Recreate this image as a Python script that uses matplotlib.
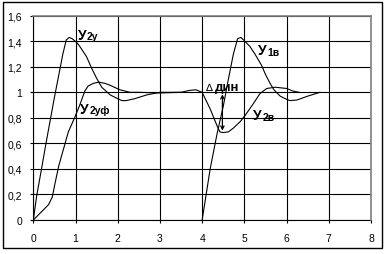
import numpy as np
import matplotlib
matplotlib.use('Agg')
import matplotlib.pyplot as plt
from matplotlib.patches import Rectangle

plt.rcParams['font.family'] = ['Liberation Sans', 'DejaVu Sans']

# y2 reaction to set point (0..4), continued by y2 reaction to disturbance (4..6.3)
t_y2y = [0, 0.08, 0.2, 0.3, 0.4, 0.5, 0.6, 0.7, 0.78, 0.85, 0.92, 1.03, 1.1, 1.2, 1.26,
         1.38, 1.5, 1.62, 1.82, 2.0, 2.1, 2.2, 2.4, 2.69, 3.0, 3.5, 3.7, 3.85, 4.0]
y2y = [0, 0.19, 0.41, 0.60, 0.78, 0.96, 1.13, 1.30, 1.41, 1.43, 1.42, 1.39, 1.36, 1.31, 1.28,
       1.19, 1.11, 1.04, 0.98, 0.95, 0.935, 0.935, 0.95, 0.98, 1.0, 1.0, 1.015, 1.02, 1.0]

t_y2yf = [0, 0.36, 0.45, 0.51, 0.6, 0.71, 0.83, 0.99, 1.1, 1.22, 1.3, 1.42, 1.55, 1.7,
          1.82, 2.05, 2.29, 2.5, 3.0, 3.5]
y2yf = [0, 0.12, 0.18, 0.28, 0.42, 0.55, 0.69, 0.81, 0.9, 1.01, 1.05, 1.07, 1.08, 1.07,
        1.055, 1.02, 1.0, 1.0, 0.995, 1.0]

t_y2v = [4.0, 4.19, 4.35, 4.42, 4.5, 4.62, 4.74, 4.9, 5.02, 5.21, 5.37, 5.53, 5.73, 6.0,
         6.15, 6.3]
y2v = [1.0, 0.87, 0.74, 0.69, 0.685, 0.69, 0.72, 0.77, 0.82, 0.91, 0.99, 1.03, 1.04, 1.03,
       1.01, 1.0]

t_y1v = [4.0, 4.19, 4.35, 4.5, 4.62, 4.74, 4.84, 4.92, 4.98, 5.13, 5.25, 5.41, 5.5, 5.61,
         5.7, 5.85, 6.0, 6.08, 6.25, 6.5, 6.79]
y1v = [0, 0.40, 0.67, 0.89, 1.10, 1.30, 1.42, 1.43, 1.41, 1.36, 1.30, 1.21, 1.14, 1.07,
       1.02, 0.97, 0.945, 0.935, 0.94, 0.97, 1.0]

xticks = [0, 1, 2, 3, 4, 5, 6, 7, 8]
yticks = [0, 0.2, 0.4, 0.6, 0.8, 1.0, 1.2, 1.4, 1.6]
ylabels = ['0', '0,2', '0,4', '0,6', '0,8', '1', '1,2', '1,4', '1,6']

fig = plt.figure(figsize=(3.86, 2.55), dpi=100)
ax = fig.add_axes([0.0863, 0.1333, 0.8748, 0.8012])

lw = 0.8
ax.plot(t_y2y, y2y, color='black', lw=lw)
ax.plot(t_y2yf, y2yf, color='black', lw=lw)
ax.plot(t_y2v, y2v, color='black', lw=lw)
ax.plot(t_y1v, y1v, color='black', lw=lw)

# dynamic deviation arrow
ax.annotate('', xy=(4.48, 0.70), xytext=(4.48, 0.985),
            arrowprops=dict(arrowstyle='<->', lw=0.9, color='black',
                            mutation_scale=6, shrinkA=0, shrinkB=0))

ax.set_xlim(0, 8)
ax.set_ylim(0, 1.6)
ax.set_xticks(xticks)
ax.set_xticklabels([str(x) for x in xticks])
ax.set_yticks(yticks)
ax.set_yticklabels(ylabels)
ax.grid(True, color='black', lw=0.8)
ax.tick_params(direction='out', length=2, width=0.8, labelsize=7.5)
ax.tick_params(axis='x', pad=7.5)
ax.tick_params(axis='y', pad=6)
for s in ['left', 'bottom']:
    ax.spines[s].set_color('black')
    ax.spines[s].set_linewidth(0.8)
for s in ['top', 'right']:
    ax.spines[s].set_color('#808080')
    ax.spines[s].set_linewidth(1.2)
    ax.spines[s].set_zorder(3)

# curve labels: main letter + subscript
labels = [(1.06, 1.42, '2у'), (1.11, 0.84, '2уф'), (5.33, 1.30, '1в'), (5.21, 0.79, '2в')]
for x, y, sub in labels:
    ax.text(x, y, 'У', fontsize=10, fontweight='bold', va='baseline', ha='left')
    ax.annotate(sub, xy=(x, y), xytext=(6.5, -0.5), textcoords='offset points',
                fontsize=7.5, fontweight='bold', va='baseline', ha='left')

ax.text(4.07, 1.02, '∆', fontsize=7.5, va='baseline', ha='left', family=['DejaVu Sans'])
ax.text(4.31, 1.02, 'дин', fontsize=9.5, fontweight='bold', va='baseline', ha='left')

fig.patches.append(Rectangle((3 / 386, 6 / 255), 379 / 386, 246 / 255, fill=False,
                             edgecolor='black', lw=1.0, transform=fig.transFigure))

fig.savefig('out.png', dpi=100)
